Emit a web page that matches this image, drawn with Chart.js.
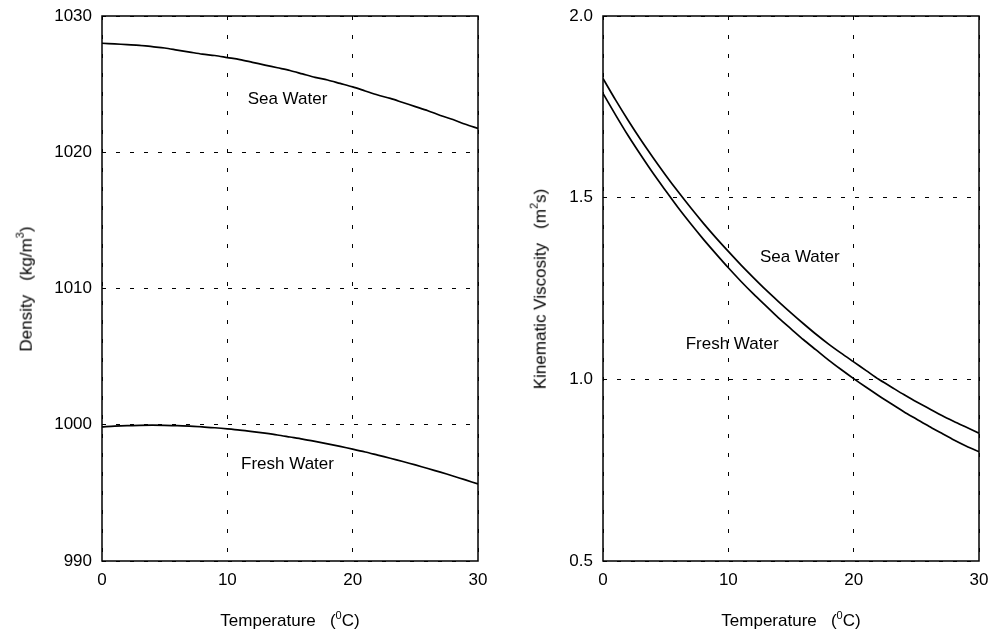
<!DOCTYPE html>
<html>
<head>
<meta charset="utf-8">
<script src="https://cdn.jsdelivr.net/npm/chart.js@4.4.1/dist/chart.umd.min.js"></script>
<style>
  html, body { margin: 0; padding: 0; background: #fff; }
  body { width: 989px; height: 635px; position: relative; overflow: hidden;
         font-family: "Liberation Sans", Arial, sans-serif; color: #000; }
  canvas { position: absolute; top: 0; }
  .titulo { position: absolute; font-size: 17px; white-space: pre; line-height: 1;
            transform: translate(-50%, -50%); }
  .titulo.vert { transform: translate(-50%, -50%) rotate(-90deg); }
  .titulo sup { font-size: 11px; position: relative; top: -1px; }
</style>
</head>
<body>
<canvas id="densidade" width="494" height="635" style="left:0"></canvas>
<canvas id="viscosidade" width="495" height="635" style="left:494px"></canvas>

<div class="titulo vert" style="left:25px; top:289px">Density   (kg/m<sup>3</sup>)</div>
<div class="titulo" style="left:290px; top:620px">Temperature   (<sup>0</sup>C)</div>
<div class="titulo vert" style="left:539px; top:289px">Kinematic Viscosity   (m<sup>2</sup>s)</div>
<div class="titulo" style="left:791px; top:620px">Temperature   (<sup>0</sup>C)</div>

<script>
// temperatura (°C)
const temperaturas = [0, 1, 2, 3, 4, 5, 6, 7, 8, 9, 10, 11, 12, 13, 14, 15,
                      16, 17, 18, 19, 20, 21, 22, 23, 24, 25, 26, 27, 28, 29, 30];

// densidade (kg/m3)
const densidadeMar = [1028.0, 1027.95, 1027.9, 1027.85, 1027.75, 1027.65, 1027.5, 1027.35,
                      1027.2, 1027.1, 1026.95, 1026.8, 1026.6, 1026.4, 1026.2, 1026.0,
                      1025.75, 1025.5, 1025.3, 1025.05, 1024.8, 1024.5, 1024.2, 1023.95,
                      1023.65, 1023.35, 1023.05, 1022.7, 1022.4, 1022.05, 1021.75];
const densidadeDoce = [999.84, 999.90, 999.94, 999.96, 999.97, 999.96, 999.94, 999.90,
                       999.85, 999.78, 999.70, 999.61, 999.50, 999.38, 999.25, 999.10,
                       998.95, 998.78, 998.60, 998.41, 998.21, 998.00, 997.77, 997.54,
                       997.30, 997.05, 996.79, 996.52, 996.24, 995.95, 995.65];

// viscosidade cinemática (x1e-6 m2/s)
const viscosidadeMar = [1.828, 1.769, 1.713, 1.660, 1.610, 1.562, 1.516, 1.472, 1.430, 1.390,
                        1.352, 1.315, 1.280, 1.246, 1.214, 1.183, 1.153, 1.124, 1.097, 1.072,
                        1.048, 1.024, 1.000, 0.979, 0.958, 0.938, 0.920, 0.901, 0.884, 0.868, 0.852];
const viscosidadeDoce = [1.787, 1.728, 1.671, 1.618, 1.567, 1.519, 1.472, 1.428, 1.386, 1.346,
                         1.307, 1.270, 1.235, 1.202, 1.169, 1.139, 1.109, 1.081, 1.053, 1.027,
                         1.002, 0.978, 0.955, 0.933, 0.911, 0.891, 0.871, 0.852, 0.833, 0.816, 0.801];

// eixos
const ticksTemperatura = [0, 10, 20, 30];
const ticksDensidade = [990, 1000, 1010, 1020, 1030];
const ticksViscosidade = [0.5, 1.0, 1.5, 2.0];

// rótulos das curvas, em coordenadas de dados
const rotulosDensidade = [
    { texto: "Sea Water", x: 14.8, y: 1023.85 },
    { texto: "Fresh Water", x: 14.8, y: 997.1 },
];
const rotulosViscosidade = [
    { texto: "Sea Water", x: 15.7, y: 1.337 },
    { texto: "Fresh Water", x: 10.3, y: 1.097 },
];

const FONTE = { family: "'Liberation Sans', Arial, sans-serif", size: 17 };

function pontos(valores) {
    return temperaturas.map((t, i) => ({ x: t, y: valores[i] }));
}

function serie(valores) {
    return {
        data: pontos(valores),
        borderColor: "#000",
        borderWidth: 1.7,
        pointRadius: 0,
        tension: 0.3,
        fill: false,
    };
}

// zera o respiro automático que o Chart.js reserva para os rótulos das pontas
function semRespiro(s) {
    s.paddingTop = 0; s.paddingBottom = 0; s.paddingLeft = 0; s.paddingRight = 0;
}

// moldura preta em volta da área do gráfico + rótulos das curvas
const molduraPlugin = {
    id: "moldura",
    afterDatasetsDraw(chart, args, opts) {
        const { ctx, chartArea: a, scales } = chart;
        ctx.save();
        ctx.fillStyle = "#000";
        ctx.font = `${FONTE.size}px ${FONTE.family}`;
        ctx.textAlign = "center";
        ctx.textBaseline = "middle";
        (opts.rotulos || []).forEach(r => {
            ctx.fillText(r.texto, scales.x.getPixelForValue(r.x), scales.y.getPixelForValue(r.y));
        });
        ctx.strokeStyle = "#000";
        ctx.lineWidth = 1.5;
        ctx.setLineDash([]);
        ctx.strokeRect(a.left, a.top, a.right - a.left, a.bottom - a.top);
        ctx.restore();
    },
};

function montarGrafico(id, series, ticksY, rotulos, larguraY, padDireita, fmtY) {
    return new Chart(document.getElementById(id), {
        type: "line",
        data: { datasets: series.map(serie) },
        plugins: [molduraPlugin],
        options: {
            responsive: false,
            animation: false,
            layout: { padding: { top: 16, right: padDireita, bottom: 0, left: 0 } },
            plugins: {
                legend: { display: false },
                tooltip: { enabled: false },
                moldura: { rotulos },
            },
            scales: {
                x: {
                    type: "linear",
                    min: ticksTemperatura[0],
                    max: ticksTemperatura[ticksTemperatura.length - 1],
                    afterBuildTicks: s => { s.ticks = ticksTemperatura.map(v => ({ value: v })); },
                    afterFit: s => { s.height = 74; semRespiro(s); },
                    grid: { color: "#000", lineWidth: 1, drawTicks: false },
                    border: { display: false, dash: [4, 15] },
                    ticks: { color: "#000", font: FONTE, padding: 9, maxRotation: 0 },
                },
                y: {
                    min: ticksY[0],
                    max: ticksY[ticksY.length - 1],
                    afterBuildTicks: s => { s.ticks = ticksY.map(v => ({ value: v })); },
                    afterFit: s => { s.width = larguraY; semRespiro(s); },
                    grid: { color: "#000", lineWidth: 1, drawTicks: false },
                    border: { display: false, dash: [4, 10] },
                    ticks: { color: "#000", font: FONTE, padding: 10, callback: fmtY },
                },
            },
        },
    });
}

montarGrafico("densidade", [densidadeMar, densidadeDoce], ticksDensidade,
              rotulosDensidade, 102, 16, v => String(v));
montarGrafico("viscosidade", [viscosidadeMar, viscosidadeDoce], ticksViscosidade,
              rotulosViscosidade, 109, 10, v => Number(v).toFixed(1));
</script>
</body>
</html>
